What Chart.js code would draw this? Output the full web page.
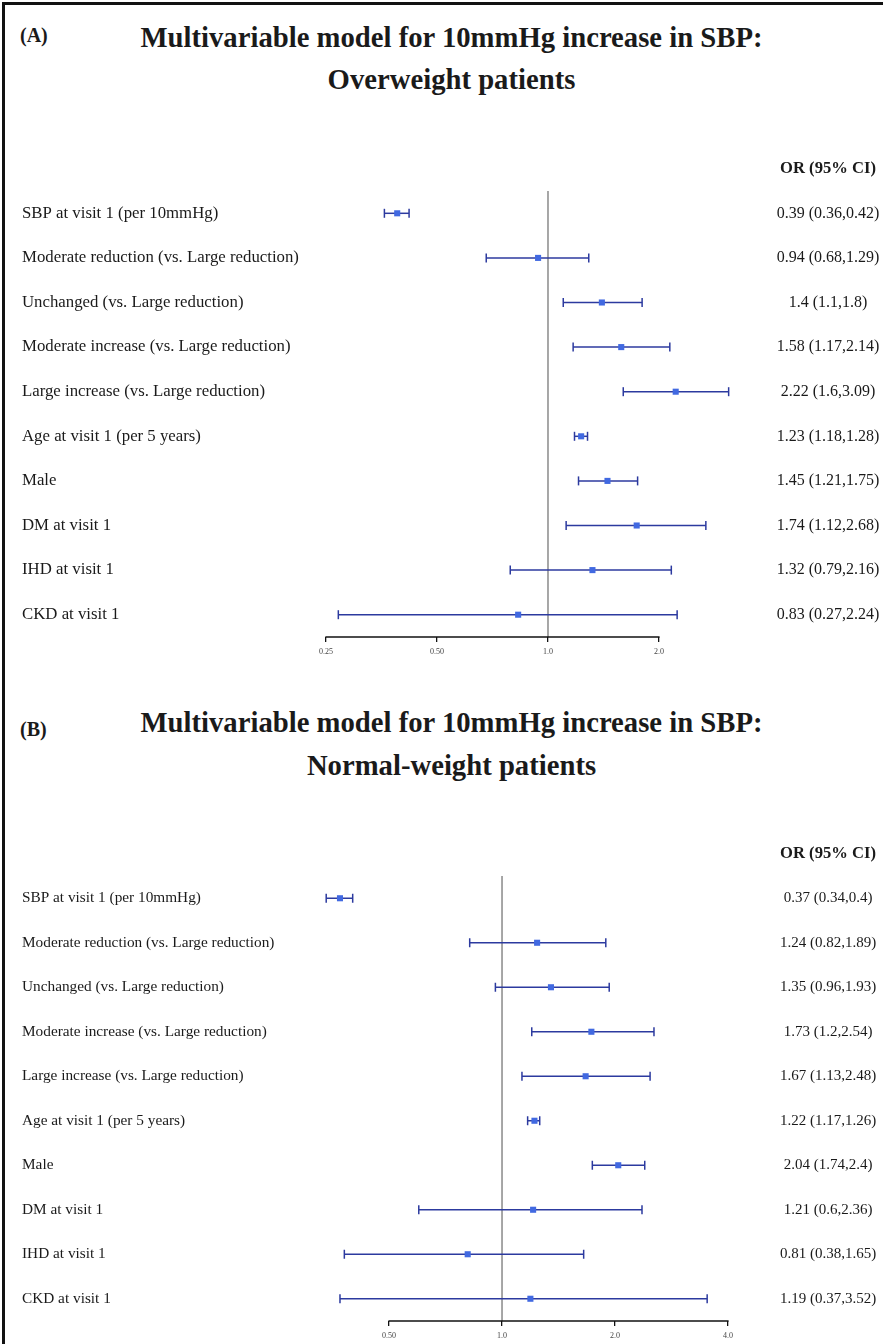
<!DOCTYPE html>
<html>
<head>
<meta charset="utf-8">
<script src="https://cdn.jsdelivr.net/npm/chart.js@4"></script>
<style>
  body { margin: 0; background: #fff; }
  #page { position: relative; width: 883px; height: 1344px; overflow: hidden; background: #fff; }
  #frame { position: absolute; left: 2px; top: 2px; right: -5px; bottom: -5px; border-top: 3px solid #111; border-left: 3px solid #111; }
  .ttl { position: absolute; left: 0; width: 903px; text-align: center; font: bold 28.7px "Liberation Serif", "Times New Roman", serif; color: #1a1a1a; line-height: 32px; }
  .tag { position: absolute; left: 20px; font: bold 20px "Liberation Serif", "Times New Roman", serif; color: #1a1a1a; line-height: 24px; }
  canvas { position: absolute; left: 0; }
</style>
</head>
<body>
<div id="page">
  <div id="frame"></div>
  <div class="tag" style="top:23px">(A)</div>
  <div class="ttl" style="top:21px">Multivariable model for 10mmHg increase in SBP:</div>
  <div class="ttl" style="top:63px">Overweight patients</div>
  <canvas id="chartA" width="883" height="530" style="top:140px"></canvas>

  <div class="tag" style="top:717px">(B)</div>
  <div class="ttl" style="top:706px">Multivariable model for 10mmHg increase in SBP:</div>
  <div class="ttl" style="top:749px">Normal-weight patients</div>
  <canvas id="chartB" width="883" height="519" style="top:825px"></canvas>
</div>
<script>
var rowLabels = [
    'SBP at visit 1 (per 10mmHg)',
    'Moderate reduction (vs. Large reduction)',
    'Unchanged (vs. Large reduction)',
    'Moderate increase (vs. Large reduction)',
    'Large increase (vs. Large reduction)',
    'Age at visit 1 (per 5 years)',
    'Male',
    'DM at visit 1',
    'IHD at visit 1',
    'CKD at visit 1'
];

// (A) overweight patients
var orA = [0.39, 0.94, 1.4, 1.58, 2.22, 1.23, 1.45, 1.74, 1.32, 0.83];
var lowA = [0.36, 0.68, 1.1, 1.17, 1.6, 1.18, 1.21, 1.12, 0.79, 0.27];
var highA = [0.42, 1.29, 1.8, 2.14, 3.09, 1.28, 1.75, 2.68, 2.16, 2.24];
var tickValsA = [0.25, 0.5, 1, 2];
var tickTextA = ['0.25', '0.50', '1.0', '2.0'];

// (B) normal-weight patients
var orB = [0.37, 1.24, 1.35, 1.73, 1.67, 1.22, 2.04, 1.21, 0.81, 1.19];
var lowB = [0.34, 0.82, 0.96, 1.2, 1.13, 1.17, 1.74, 0.6, 0.38, 0.37];
var highB = [0.4, 1.89, 1.93, 2.54, 2.48, 1.26, 2.4, 2.36, 1.65, 3.52];
var tickValsB = [0.5, 1, 2, 4];
var tickTextB = ['0.50', '1.0', '2.0', '4.0'];

var serif = '"Liberation Serif", "Times New Roman", serif';
Chart.defaults.font.family = serif;

// right hand column: "OR (95% CI)" header and the value text per row
var orColumn = {
    id: 'orColumn',
    afterDraw: function (chart, args, opts) {
        var ctx = chart.ctx;
        var y = chart.scales.y;
        ctx.save();
        ctx.fillStyle = '#1a1a1a';
        ctx.textAlign = 'center';
        ctx.textBaseline = 'middle';
        ctx.font = 'bold 16.6px ' + serif;
        ctx.fillText('OR (95% CI)', opts.x, y.getPixelForValue(-1));
        ctx.font = opts.size + 'px ' + serif;
        for (var i = 0; i < opts.or.length; i++) {
            var txt = opts.or[i] + ' (' + opts.low[i] + ',' + opts.high[i] + ')';
            ctx.fillText(txt, opts.x, y.getPixelForValue(i));
        }
        ctx.restore();
    }
};

// axis line only between the first and last tick
var axisLine = {
    id: 'axisLine',
    afterDraw: function (chart, args, opts) {
        var x = chart.scales.x;
        var ctx = chart.ctx;
        var yb = chart.chartArea.bottom;
        ctx.save();
        ctx.strokeStyle = '#111';
        ctx.lineWidth = 1.3;
        ctx.beginPath();
        ctx.moveTo(x.getPixelForValue(opts.from) - 0.6, yb);
        ctx.lineTo(x.getPixelForValue(opts.to) + 0.6, yb);
        ctx.stroke();
        ctx.restore();
    }
};

function forest(id, or, low, high, tickVals, tickText, xMin, xMax, pad, axisW, labelSize, textSize) {
    var datasets = [];
    datasets.push({
        data: or.map(function (v, i) { return {x: v, y: i}; }),
        pointStyle: 'rect',
        pointRadius: 4.3,
        backgroundColor: '#4169e1',
        borderColor: '#4169e1',
        borderWidth: 0,
        clip: false
    });
    for (var i = 0; i < or.length; i++) {
        datasets.push({
            data: [{x: low[i], y: i}, {x: high[i], y: i}],
            showLine: true,
            borderColor: '#2c3a9f',
            borderWidth: 1.5,
            pointStyle: 'line',
            pointRotation: 90,
            pointRadius: 4.5,
            pointBorderWidth: 1.5,
            pointBorderColor: '#2c3a9f',
            clip: false
        });
    }
    datasets.push({
        data: [{x: 1, y: -0.5}, {x: 1, y: 9.5}],
        showLine: true,
        borderColor: '#9a9a9a',
        borderWidth: 1,
        pointRadius: 0
    });

    return new Chart(document.getElementById(id).getContext('2d'), {
        type: 'scatter',
        data: {datasets: datasets},
        options: {
            responsive: false,
            animation: false,
            events: [],
            layout: {padding: pad},
            plugins: {
                legend: {display: false},
                tooltip: {enabled: false},
                orColumn: {x: 828, size: textSize, or: or, low: low, high: high},
                axisLine: {from: tickVals[0], to: tickVals[tickVals.length - 1]}
            },
            scales: {
                x: {
                    type: 'logarithmic',
                    min: xMin,
                    max: xMax,
                    afterBuildTicks: function (scale) {
                        scale.ticks = tickVals.map(function (v) { return {value: v}; });
                    },
                    afterFit: function (scale) { scale.height = 20; },
                    grid: {drawOnChartArea: false, drawTicks: true, tickLength: 5, color: '#111', lineWidth: 1.3},
                    border: {display: false},
                    ticks: {
                        autoSkip: false,
                        maxRotation: 0,
                        padding: 5,
                        color: '#444',
                        font: {size: 8},
                        callback: function (v, i) { return tickText[i]; }
                    }
                },
                y: {
                    type: 'linear',
                    reverse: true,
                    min: -0.5,
                    max: 9.5,
                    afterBuildTicks: function (scale) {
                        scale.ticks = rowLabels.map(function (l, i) { return {value: i}; });
                    },
                    afterFit: function (scale) { scale.width = axisW; },
                    grid: {display: false, drawTicks: false},
                    border: {display: false},
                    ticks: {
                        crossAlign: 'far',
                        color: '#1a1a1a',
                        font: {size: labelSize},
                        callback: function (v) { return rowLabels[v]; }
                    }
                }
            }
        },
        plugins: [orColumn, axisLine]
    });
}

forest('chartA', orA, lowA, highA, tickValsA, tickTextA, 0.25, 3.5,
    {left: 22, right: 134.4, top: 51, bottom: 13}, 304, 16.8, 16);
forest('chartB', orB, lowB, highB, tickValsB, tickTextB, 0.3, 4,
    {left: 22, right: 155, top: 51, bottom: 3}, 283.8, 15.3, 15);
</script>
</body>
</html>
